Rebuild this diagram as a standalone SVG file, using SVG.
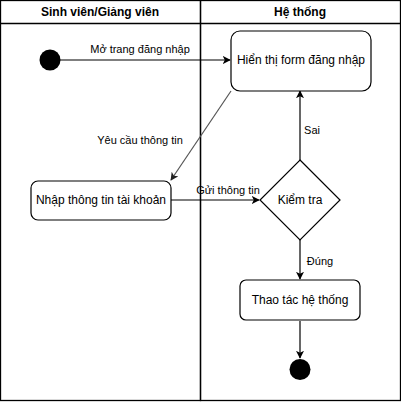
<svg xmlns="http://www.w3.org/2000/svg" width="401" height="402" viewBox="0 0 401 402">
<defs>
<style>
.lane{fill:none;stroke:#000;stroke-width:1.3}
.node{fill:#fff;stroke:#000;stroke-width:1.2}
.t{font-family:"Liberation Sans",Arial,sans-serif;font-size:12px;fill:#000;text-anchor:middle;dominant-baseline:central}
.h{font-weight:bold}
.lbl{font-family:"Liberation Sans",Arial,sans-serif;font-size:11px;fill:#000;text-anchor:middle;dominant-baseline:central}
.e{fill:none;stroke:#000;stroke-width:1.2}
</style>
<marker id="arr" viewBox="0 0 10 10" refX="9" refY="5" markerWidth="8" markerHeight="8" markerUnits="userSpaceOnUse" orient="auto">
<path d="M0,0 L10,5 L0,10 L2.5,5 Z" fill="#000"/>
</marker>
<marker id="arrg" viewBox="0 0 10 10" refX="9" refY="5" markerWidth="8" markerHeight="8" markerUnits="userSpaceOnUse" orient="auto">
<path d="M0,0 L10,5 L0,10 L2.5,5 Z" fill="#222"/>
</marker>
</defs>
<g id="lanes">
<rect class="lane" x="0.5" y="0.5" width="200" height="400"/>
<rect class="lane" x="200.5" y="0.5" width="200" height="400"/>
<line class="lane" x1="0.5" y1="23.5" x2="400.5" y2="23.5"/>
<text class="t h" x="100" y="12">Sinh viên/Giảng viên</text>
<text class="t h" x="300" y="12">Hệ thống</text>
</g>
<g id="connectors">
<line class="e" x1="60" y1="60" x2="230" y2="60" marker-end="url(#arr)"/>
<text class="lbl" x="140" y="49">Mở trang đăng nhập</text>
<line x1="231" y1="91" x2="171" y2="180" stroke="#555" stroke-width="1.2" marker-end="url(#arrg)"/>
<text class="lbl" x="140" y="140">Yêu cầu thông tin</text>
<line class="e" x1="171" y1="200" x2="259" y2="200" marker-end="url(#arr)"/>
<text class="lbl" x="228" y="190">Gửi thông tin</text>
<line class="e" x1="300" y1="160" x2="300" y2="91" marker-end="url(#arr)"/>
<text class="lbl" x="312" y="130">Sai</text>
<line class="e" x1="300" y1="240" x2="300" y2="279" marker-end="url(#arr)"/>
<text class="lbl" x="320" y="261">Đúng</text>
<line class="e" x1="300" y1="321" x2="300" y2="358" marker-end="url(#arr)"/>
</g>
<g id="start"><circle cx="50" cy="60" r="10.5" fill="#000"/></g>
<g id="show-form">
<rect class="node" x="231" y="31" width="140" height="60" rx="9"/>
<text class="t" x="301" y="60">Hiển thị form đăng nhập</text>
</g>
<g id="enter-info">
<rect class="node" x="31" y="181" width="140" height="39" rx="7"/>
<text class="t" x="101" y="200">Nhập thông tin tài khoản</text>
</g>
<g id="check">
<path class="node" d="M300,160 L340,200 L300,240 L260,200 Z"/>
<text class="t" x="300" y="200">Kiểm tra</text>
</g>
<g id="operate">
<rect class="node" x="240" y="280" width="120" height="40" rx="6"/>
<text class="t" x="300" y="300">Thao tác hệ thống</text>
</g>
<g id="end"><circle cx="300" cy="369.5" r="10.5" fill="#000"/></g>
</svg>
